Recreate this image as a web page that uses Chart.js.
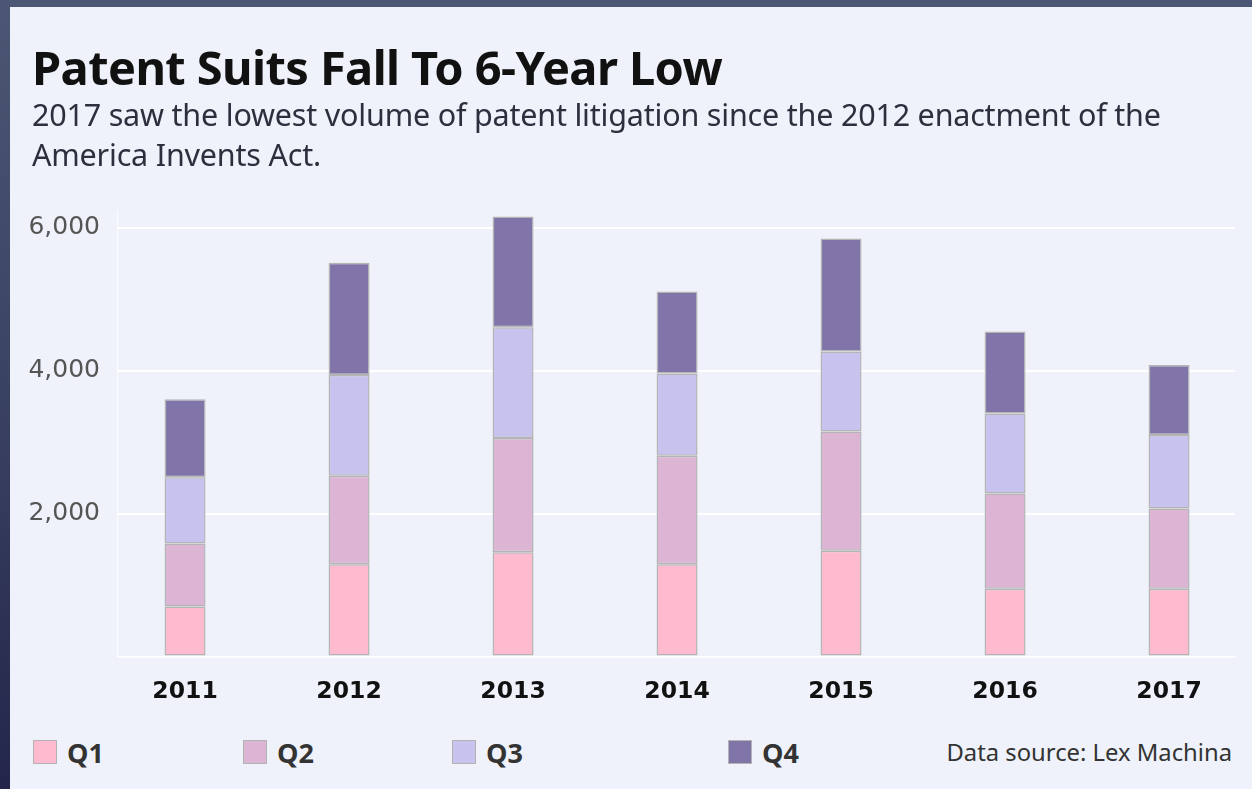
<!DOCTYPE html>
<html>
<head>
<meta charset="utf-8">
<script src="https://cdn.jsdelivr.net/npm/chart.js@4.4.0/dist/chart.umd.min.js"></script>
<style>
  html, body { margin: 0; padding: 0; }
  body {
    width: 1252px; height: 789px; overflow: hidden; position: relative;
    background: linear-gradient(180deg, #4b5774 0%, #3a4262 50%, #23264a 100%);
  }
  #panel {
    position: absolute; left: 10px; top: 7px; width: 1242px; height: 782px;
    background: #eff2fa;
  }
  #chart { position: absolute; left: 0; top: 0; }
  .title {
    position: absolute; left: 22px; top: 28px; margin: 0;
    font-family: "Noto Sans", sans-serif; font-weight: 700; font-size: 47px;
    color: #111; letter-spacing: -0.6px; white-space: nowrap;
  }
  .subtitle {
    position: absolute; left: 22px; top: 87px; margin: 0;
    font-family: "Noto Sans", sans-serif; font-size: 30.5px; line-height: 40px;
    color: #2e2f3e; letter-spacing: -0.2px; white-space: nowrap;
  }
  .legend-item {
    position: absolute; top: 732px; height: 26px; display: flex; align-items: center;
    font-family: "Open Sans", sans-serif; font-weight: 700; font-size: 27px; color: #333;
  }
  .legend-item span.box {
    width: 22px; height: 22px; border: 1.5px solid #b3b3b3; margin-right: 10px;
  }
  .source {
    position: absolute; right: 20px; top: 732px; line-height: 26px;
    font-family: "Noto Sans", sans-serif; font-size: 23.8px; color: #333;
  }
</style>
</head>
<body>
<div id="panel">
  <canvas id="chart" width="1242" height="700"></canvas>
  <div class="title">Patent Suits Fall To 6-Year Low</div>
  <div class="subtitle">2017 saw the lowest volume of patent litigation since the 2012 enactment of the<br>America Invents Act.</div>
  <div id="legend"></div>
  <div class="source">Data source: Lex Machina</div>
</div>
<script>
const years = [2011, 2012, 2013, 2014, 2015, 2016, 2017];
const q1 = [700, 1290, 1460, 1290, 1480, 950, 950];
const q2 = [880, 1240, 1600, 1520, 1670, 1330, 1120];
const q3 = [930, 1410, 1550, 1150, 1120, 1120, 1030];
const q4 = [1090, 1570, 1550, 1150, 1580, 1150, 980];
const quarterLabels = ['Q1', 'Q2', 'Q3', 'Q4'];
const quarterColors = ['#febacf', '#dcb4d4', '#c8c2ef', '#8074a8'];
const yTicks = [0, 2000, 4000, 6000];

const series = [q1, q2, q3, q4];

const chart = new Chart(document.getElementById('chart').getContext('2d'), {
  type: 'bar',
  data: {
    datasets: series.map((vals, i) => ({
      label: quarterLabels[i],
      data: years.map((yr, j) => ({ x: yr, y: vals[j] })),
      backgroundColor: quarterColors[i],
      borderColor: '#b4b4b4',
      borderWidth: 1.5,
      borderSkipped: false,
      categoryPercentage: 0.25,
      barPercentage: 1
    }))
  },
  options: {
    responsive: false,
    animation: false,
    layout: { padding: { top: 203, right: 17, left: 0, bottom: 0 } },
    plugins: {
      legend: { display: false },
      tooltip: { enabled: false }
    },
    scales: {
      x: {
        type: 'linear',
        stacked: true,
        offset: false,
        min: 2010.585,
        max: 2017.402,
        grid: { display: false, drawTicks: false },
        border: { display: true, color: 'rgba(255,255,255,0.8)', width: 1 },
        afterFit: s => { s.height = 50.5; },
        ticks: {
          stepSize: 1,
          includeBounds: false,
          padding: 21,
          color: '#111',
          font: { family: '"DejaVu Sans", sans-serif', size: 23.5, weight: 'bold' },
          callback: v => String(v)
        }
      },
      y: {
        stacked: true,
        min: 0,
        max: 6250,
        afterFit: s => { s.width = 107; },
        afterBuildTicks: s => { s.ticks = yTicks.map(v => ({ value: v })); },
        grid: {
          drawTicks: false,
          lineWidth: 2,
          color: c => c.tick && c.tick.value === 0 ? 'rgba(255,255,255,0.6)' : '#ffffff'
        },
        border: { display: true, color: 'rgba(255,255,255,0.8)', width: 1 },
        ticks: {
          padding: 17,
          color: '#555',
          font: { family: '"DejaVu Sans", sans-serif', size: 25 },
          callback: v => v === 0 ? '' : v.toLocaleString('en-US')
        }
      }
    }
  }
});

// html legend under the plot
const legendLeft = [23, 233, 442, 718];
const legendEl = document.getElementById('legend');
chart.data.datasets.forEach((ds, i) => {
  const item = document.createElement('div');
  item.className = 'legend-item';
  item.style.left = legendLeft[i] + 'px';
  item.innerHTML = '<span class="box" style="background:' + ds.backgroundColor + '"></span>' + ds.label;
  legendEl.appendChild(item);
});
</script>
</body>
</html>
